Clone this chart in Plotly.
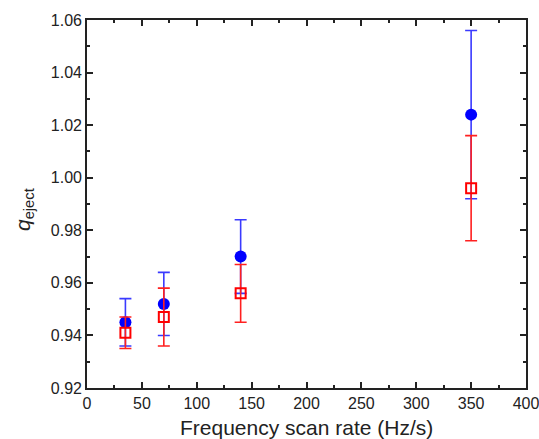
import plotly.graph_objects as go

rate = [35, 70, 140, 350]
q_blue = [0.945, 0.952, 0.970, 1.024]
err_blue = [0.009, 0.012, 0.014, 0.032]
q_red = [0.941, 0.947, 0.956, 0.996]
err_red = [0.006, 0.011, 0.011, 0.020]

fig = go.Figure()
fig.add_trace(go.Scatter(
    x=rate, y=q_blue, mode="markers",
    marker=dict(symbol="circle", size=12, color="#0000ff"),
    error_y=dict(type="data", array=err_blue, visible=True, color="#3a3aff", thickness=1.6, width=6),
    showlegend=False,
))
fig.add_trace(go.Scatter(
    x=rate, y=q_red, mode="markers",
    marker=dict(symbol="square-open", size=10, color="#ff0000", line=dict(width=2, color="#ff0000")),
    error_y=dict(type="data", array=err_red, visible=True, color="#ff2020", thickness=1.6, width=6),
    showlegend=False,
))

axis_common = dict(
    showline=True, linecolor="#222", linewidth=1.6, mirror="ticks",
    ticks="inside", ticklen=6, tickwidth=1.5, tickcolor="#222",
    showgrid=False, zeroline=False, automargin=False, ticklabeloverflow="allow",
    tickfont=dict(family="Liberation Sans, Arial", size=16, color="#222"),
)
fig.update_xaxes(range=[0, 400], dtick=50, tick0=0,
                 minor=dict(ticks="inside", ticklen=3, dtick=25, tickcolor="#222", tickwidth=1.5),
                 **axis_common)
fig.update_yaxes(range=[0.92, 1.06], dtick=0.02, tick0=0.92, tickformat=".2f",
                 minor=dict(ticks="inside", ticklen=3, dtick=0.01, tickcolor="#222", tickwidth=1.5),
                 **axis_common)

fig.add_annotation(
    text="<i>q</i><sub>eject</sub>", textangle=-90,
    xref="paper", yref="paper", x=0, y=0.5, xanchor="right", yanchor="middle",
    xshift=-48, yshift=-6, showarrow=False,
    font=dict(family="Liberation Sans, Arial", size=21, color="#222"),
)
fig.add_annotation(
    text="Frequency scan rate (Hz/s)",
    xref="paper", yref="paper", x=0.5, y=0, xanchor="center", yanchor="middle",
    yshift=-39, showarrow=False,
    font=dict(family="Liberation Sans, Arial", size=21, color="#222"),
)

fig.update_layout(
    width=539, height=439,
    margin=dict(l=87, r=13, t=20, b=51),
    plot_bgcolor="white", paper_bgcolor="white",
)
fig.write_html("out.html")
